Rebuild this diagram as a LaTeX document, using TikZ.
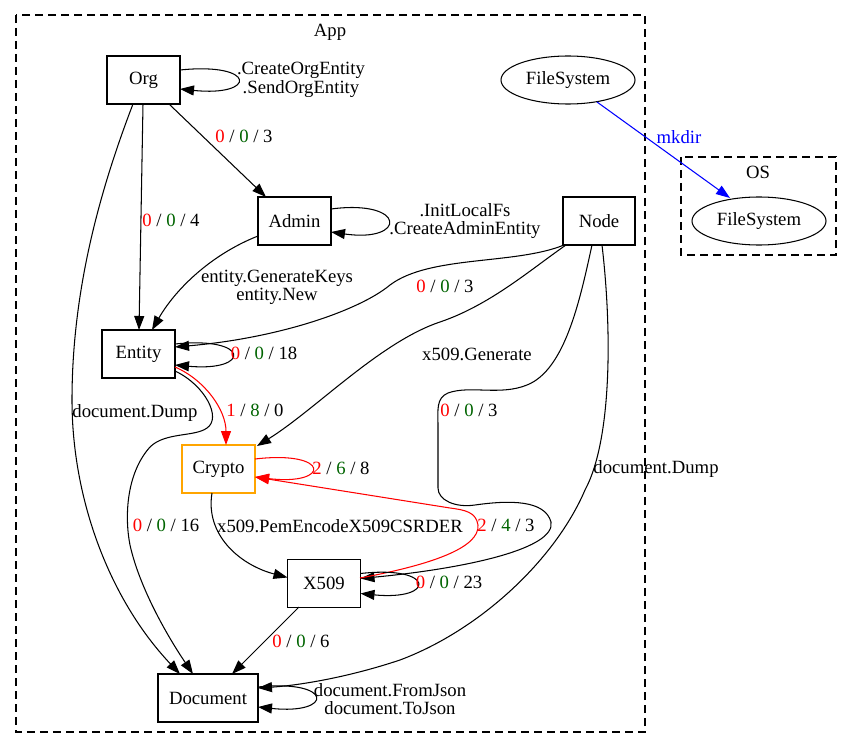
\documentclass[tikz,border=0pt]{standalone}
\usepackage{fontspec}
\setmainfont{Liberation Serif}
\usetikzlibrary{arrows.meta,calc,shapes.geometric}
\definecolor{dgreen}{HTML}{006400}
\definecolor{borange}{HTML}{FFA500}
\newcommand{\tally}[3]{\textcolor{red}{#1} / \textcolor{dgreen}{#2} / #3}

\begin{document}
\begin{tikzpicture}[x=1pt,y=-1pt,
  every node/.style={font=\fontsize{18.7}{18.5}\selectfont},
  box/.style={draw, line width=1.05pt, minimum width=73pt, minimum height=48pt, inner sep=0pt},
  oval/.style={draw, ellipse, line width=1.05pt, minimum width=134pt, minimum height=48pt, inner sep=0pt},
  cluster/.style={draw, line width=1.05pt, dash pattern=on 8pt off 5pt},
  conn/.style={line width=1.05pt, -{Triangle[length=14pt,width=10pt]}},
  tag/.style={inner sep=0pt, align=center},
]
\useasboundingbox (0,0) rectangle (852,749);

% clusters
\draw[cluster] (16,15) rectangle (645,732);
\node[tag] (applbl) at (330,32) {App};
\draw[cluster] (681,157) rectangle (836,255);
\node[tag] (oslbl) at (758,172) {OS};

% nodes
\node[box] (org) at (143.5,80) {Org};
\node[box] (admin) at (294.5,221) {Admin};
\node[box] (entity) at (138.5,354) {Entity};
\node[box, draw=borange] (crypto) at (218.5,469) {Crypto};
\node[box] (x509) at (324,583.5) {X509};
\node[box, minimum width=100pt] (document) at (208,698) {Document};
\node[box, minimum width=72pt] (nodeb) at (599,221) {Node};
\node[oval] (fsapp) at (568,80) {FileSystem};
\node[oval] (fsos) at (759,221) {FileSystem};

% Org
\draw[conn] ($(org)+(36.5,-10)$) .. controls (257,62) and (257,97) .. ($(org)+(36.5,9)$);
\node[tag] (l1) at (301,80) {.CreateOrgEntity\\.SendOrgEntity};
\draw[conn] ($(org)+(25.5,24)$) -- ($(admin)+(-28.5,-24)$);
\node[tag] (l2) at (244,136) {\tally{0}{0}{3}};
\draw[conn] ($(org)+(-0.5,24)$) -- ($(entity)+(0.5,-24)$);
\node[tag] (l3) at (171,220) {\tally{0}{0}{4}};
\draw[conn] ($(org)+(-10.5,24)$) .. controls (100,190) and (72,290) .. (72,400)
  .. controls (72,500) and (110,600) .. ($(document)+(-28,-24)$);
\node[tag] (l4) at (135,413) {document.Dump};

% Admin
\draw[conn] ($(admin)+(36.5,-12)$) .. controls (407,199) and (407,243) .. ($(admin)+(36.5,11)$);
\node[tag] (l5) at (465,221) {.InitLocalFs\\.CreateAdminEntity};
\draw[conn] ($(admin)+(-36.5,15)$) .. controls (210,255) and (175,290) .. ($(entity)+(13.5,-24)$);
\node[tag] (l6) at (277,287.5) {entity.GenerateKeys\\entity.New};

% Node
\draw[conn] ($(nodeb)+(-35,24)$) .. controls (515,265) and (430,255) .. (390,285)
  .. controls (360,310) and (280,338) .. ($(entity)+(36.5,-7)$);
\node[tag] (l7) at (445,286) {\tally{0}{0}{3}};
\draw[conn] ($(nodeb)+(-33,24)$) .. controls (530,270) and (490,305) .. (440,322)
  .. controls (380,342) and (315,410) .. ($(crypto)+(38.5,-23)$);
\node[tag] (l8) at (477,354) {x509.Generate};
\draw[conn] ($(nodeb)+(-7,24)$) .. controls (580,300) and (565,370) .. (527,385)
  .. controls (500,396) and (470,385) .. (448,393)
  .. controls (436,398) and (438,410) .. (438,425) -- (438,488)
  .. controls (438,500) and (455,508) .. (475,505)
  .. controls (510,500) and (545,500) .. (551,522)
  .. controls (556,548) and (470,568) .. ($(x509)+(36.5,-5)$);
\node[tag] (l9) at (469,410) {\tally{0}{0}{3}};
\draw[conn] ($(nodeb)+(3,24)$) .. controls (612,330) and (612,440) .. (585,490)
  .. controls (555,560) and (480,630) .. (400,660)
  .. controls (340,680) and (290,686) .. ($(document)+(50,-10)$);
\node[tag] (l10) at (656,469) {document.Dump};

% Entity
\draw[conn] ($(entity)+(36.5,-10)$) .. controls (251,336) and (251,372) .. ($(entity)+(36.5,11)$);
\node[tag] (l11) at (264,353) {\tally{0}{0}{18}};
\draw[conn, red] ($(entity)+(36.5,13)$) .. controls (205,380) and (226,410) .. ($(crypto)+(7.5,-24)$);
\node[tag] (l12) at (255,410) {\tally{1}{8}{0}};
\draw[conn] ($(entity)+(36.5,17)$) .. controls (205,385) and (222,418) .. (207,428)
  .. controls (195,437) and (165,432) .. (150,447)
  .. controls (125,475) and (125,520) .. (130,545)
  .. controls (140,590) and (170,640) .. ($(document)+(-15,-24)$);
\node[tag] (l13) at (166,525) {\tally{0}{0}{16}};

% Crypto
\draw[conn, red] ($(crypto)+(36.5,-10)$) .. controls (331,450) and (331,486) .. ($(crypto)+(36.5,8)$);
\node[tag] (l14) at (341,468) {\tally{2}{6}{8}};
\draw[conn] ($(crypto)+(-6.5,24)$) .. controls (205,535) and (240,565) .. ($(x509)+(-36.5,-6)$);
\node[tag] (l15) at (340,526) {x509.PemEncodeX509CSRDER};

% X509
\draw[conn, red] ($(x509)+(36,-5.5)$) .. controls (430,565) and (480,548) .. (478,525)
  .. controls (476,512) and (465,510) .. (450,508) -- ($(crypto)+(36.5,8)$);
\node[tag] (l16) at (506,525) {\tally{2}{4}{3}};
\draw[conn] ($(x509)+(36.5,-10)$) .. controls (436,565) and (436,601) .. ($(x509)+(36.5,10)$);
\node[tag] (l17) at (449,582) {\tally{0}{0}{23}};
\draw[conn] ($(x509)+(-25,23.5)$) -- ($(document)+(24,-24)$);
\node[tag] (l18) at (301,641) {\tally{0}{0}{6}};

% Document
\draw[conn] ($(document)+(50,-11)$) .. controls (334,679) and (334,715) .. ($(document)+(50,9)$);
\node[tag] (l19) at (390,699) {document.FromJson\\document.ToJson};

% FileSystem
\draw[conn, blue] ($(fsapp)+(29,22)$) -- ($(fsos)+(-29,-23)$);
\node[tag, text=blue] (l20) at (679,137) {mkdir};
\end{tikzpicture}
\end{document}
